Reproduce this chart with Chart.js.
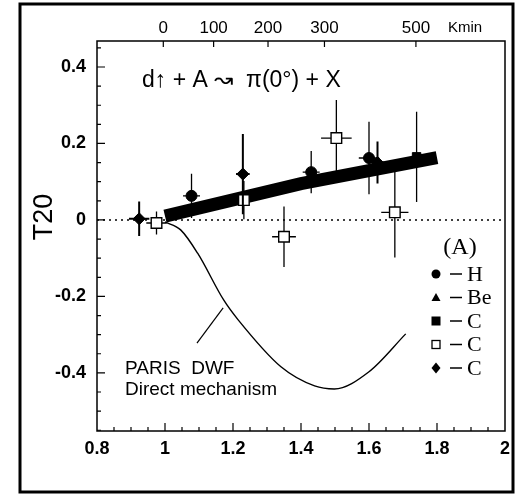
<!DOCTYPE html>
<html>
<head>
<meta charset="utf-8">
<script src="https://cdn.jsdelivr.net/npm/chart.js@4.4.0/dist/chart.umd.min.js"></script>
<style>
  html, body { margin: 0; padding: 0; background: #fff; }
  canvas { display: block; }
</style>
</head>
<body>
<canvas id="chart" width="524" height="502"></canvas>
<script>
    // bottom axis ticks and top (Kmin) axis
    const xTicks = [0.8, 1, 1.2, 1.4, 1.6, 1.8, 2];
    const yTicks = [-0.4, -0.2, 0, 0.2, 0.4];
    const kminLabels = ['0', '100', '200', '300', '500'];
    const kminAt = [0.995, 1.143, 1.303, 1.469, 1.738];

    // H - filled circles
    const hX = [1.078, 1.43, 1.60];
    const hY = [0.063, 0.125, 0.162];
    const hErr = [0.058, 0.055, 0.095];
    const hXErr = [0.025, 0.025, 0.03];

    // C - open squares
    const openX = [0.975, 1.232, 1.35, 1.504, 1.676];
    const openY = [-0.008, 0.052, -0.044, 0.214, 0.02];
    const openErr = [0.03, 0.05, 0.079, 0.1, 0.118];
    const openXErr = [0.03, 0.03, 0.035, 0.045, 0.04];

    // C - filled crosses
    const crossX = [0.924, 1.229, 1.625];
    const crossY = [0.003, 0.12, 0.15];
    const crossErr = [0.045, 0.105, 0.055];
    const crossXErr = [0.03, 0.02, 0.02];

    // C - filled square hidden in the band
    const sqX = [1.74];
    const sqY = [0.165];
    const sqErr = [0.118];

    // C - band of filled squares
    const bandX = [1.0, 1.4, 1.8];
    const bandY = [0.01, 0.095, 0.163];

    // PARIS DWF, direct mechanism
    const dwfX = [1.0, 1.046, 1.096, 1.173, 1.214, 1.341, 1.44, 1.498, 1.6, 1.708];
    const dwfY = [-0.005, -0.026, -0.087, -0.21, -0.26, -0.384, -0.434, -0.442, -0.397, -0.298];

    const zeroX = [0.8, 2];

    const legendHeader = '(A)';
    const legendNames = ['H', 'Be', 'C', 'C', 'C'];
    const legendMarks = ['circle', 'triangle', 'rect', 'openRect', 'rectRot'];

    const SANS = '"Liberation Sans", Arial, sans-serif';
    const SERIF = '"Liberation Serif", "Times New Roman", serif';

    function pts(xs, ys) {
        return xs.map((x, i) => ({x: x, y: ys[i]}));
    }

    const errorBars = {
        id: 'errorBars',
        beforeDatasetDraw(chart, args) {
            const ds = chart.data.datasets[args.index];
            if (!ds.errY) return;
            const xs = chart.scales.x, ys = chart.scales.y;
            const ctx = chart.ctx;
            ctx.save();
            ctx.strokeStyle = '#000';
            ctx.lineWidth = ds.errWidth || 1.3;
            ctx.beginPath();
            ds.data.forEach((p, i) => {
                const px = xs.getPixelForValue(p.x);
                ctx.moveTo(px, ys.getPixelForValue(p.y - ds.errY[i]));
                ctx.lineTo(px, ys.getPixelForValue(p.y + ds.errY[i]));
                if (ds.errX) {
                    const py = ys.getPixelForValue(p.y);
                    ctx.moveTo(xs.getPixelForValue(p.x - ds.errX[i]), py);
                    ctx.lineTo(xs.getPixelForValue(p.x + ds.errX[i]), py);
                }
            });
            ctx.stroke();
            ctx.restore();
        }
    };

    function marker(ctx, kind, x, y, r) {
        ctx.beginPath();
        if (kind === 'circle') {
            ctx.arc(x, y, r, 0, Math.PI * 2);
            ctx.fill();
        } else if (kind === 'triangle') {
            ctx.moveTo(x, y - r);
            ctx.lineTo(x + r, y + r * 0.8);
            ctx.lineTo(x - r, y + r * 0.8);
            ctx.closePath();
            ctx.fill();
        } else if (kind === 'rect') {
            ctx.fillRect(x - r, y - r, 2 * r, 2 * r);
        } else if (kind === 'openRect') {
            ctx.lineWidth = 1.3;
            ctx.strokeRect(x - r + 0.5, y - r + 0.5, 2 * r - 1, 2 * r - 1);
        } else {
            ctx.moveTo(x, y - r - 1);
            ctx.lineTo(x + r, y);
            ctx.lineTo(x, y + r + 1);
            ctx.lineTo(x - r, y);
            ctx.closePath();
            ctx.fill();
        }
    }

    const decorations = {
        id: 'decorations',
        afterDraw(chart) {
            const ctx = chart.ctx;
            const ca = chart.chartArea;
            const xs = chart.scales.x, ys = chart.scales.y;
            ctx.save();
            ctx.strokeStyle = '#000';
            ctx.fillStyle = '#000';

            // plot box
            ctx.lineWidth = 1.5;
            ctx.strokeRect(ca.left, ca.top, ca.right - ca.left, ca.bottom - ca.top);

            // inward ticks
            ctx.lineWidth = 1.2;
            ctx.beginPath();
            for (let i = 17; i < 40; i++) {
                const px = xs.getPixelForValue(i * 0.05);
                ctx.moveTo(px, ca.bottom);
                ctx.lineTo(px, ca.bottom - (i % 4 === 0 ? 8 : 4));
            }
            for (let i = -11; i <= 9; i++) {
                const py = ys.getPixelForValue(i * 0.05);
                ctx.moveTo(ca.left, py);
                ctx.lineTo(ca.left + (i % 4 === 0 ? 8 : 4), py);
            }
            kminAt.forEach(v => {
                const px = xs.getPixelForValue(v);
                ctx.moveTo(px, ca.top);
                ctx.lineTo(px, ca.top + 6);
            });
            ctx.stroke();

            // outer frame
            ctx.lineWidth = 3;
            ctx.strokeRect(20, 4, 493, 488);

            // Kmin
            ctx.font = '15px ' + SANS;
            ctx.textAlign = 'left';
            ctx.textBaseline = 'alphabetic';
            ctx.fillText('Kmin', 448, 32);

            // y title
            ctx.save();
            ctx.translate(52, 217);
            ctx.rotate(-Math.PI / 2);
            ctx.textAlign = 'center';
            ctx.textBaseline = 'alphabetic';
            ctx.font = '27px ' + SANS;
            ctx.fillText('T20', 0, 0);
            ctx.restore();

            // reaction
            ctx.font = '23px ' + SANS;
            ctx.fillText('d\u2191 + A \u219D  \u03C0(0\u00B0) + X', 142, 87);

            // DWF curve label and pointer
            ctx.font = '19px ' + SANS;
            ctx.fillText('PARIS  DWF', 125, 374);
            ctx.fillText('Direct mechanism', 125, 395);
            ctx.lineWidth = 1.2;
            ctx.beginPath();
            ctx.moveTo(xs.getPixelForValue(1.094), ys.getPixelForValue(-0.322));
            ctx.lineTo(xs.getPixelForValue(1.171), ys.getPixelForValue(-0.23));
            ctx.stroke();

            // legend
            ctx.font = '24px ' + SERIF;
            ctx.textAlign = 'center';
            ctx.fillText(legendHeader, 460, 254);
            ctx.textAlign = 'left';
            ctx.font = '22px ' + SERIF;
            ctx.textBaseline = 'middle';
            legendNames.forEach((name, i) => {
                const y = 274 + i * 23.5;
                marker(ctx, legendMarks[i], 436, y, 4.5);
                ctx.lineWidth = 1.5;
                ctx.beginPath();
                ctx.moveTo(450, y);
                ctx.lineTo(462, y);
                ctx.stroke();
                ctx.fillText(name, 467, y + 1);
            });
            ctx.restore();
        }
    };

    const xFont = {family: SANS, size: 18, weight: 'bold'};
    const yFont = {family: SANS, size: 18, weight: 'bold'};
    const topFont = {family: SANS, size: 17};

    new Chart(document.getElementById('chart'), {
        type: 'scatter',
        data: {
            datasets: [
                {
                    label: 'C cross',
                    data: pts(crossX, crossY),
                    errY: crossErr, errX: crossXErr, errWidth: 2,
                    pointStyle: 'rectRot', pointRadius: 6,
                    backgroundColor: '#000', borderColor: '#000', borderWidth: 1,
                    order: 1
                },
                {
                    label: 'C open',
                    data: pts(openX, openY),
                    errY: openErr, errX: openXErr,
                    pointStyle: 'rect', pointRadius: 7.5,
                    backgroundColor: '#fff', borderColor: '#000', borderWidth: 1.4,
                    order: 2
                },
                {
                    label: 'H',
                    data: pts(hX, hY),
                    errY: hErr, errX: hXErr,
                    pointStyle: 'circle', pointRadius: 5.5,
                    backgroundColor: '#000', borderColor: '#000', borderWidth: 1,
                    order: 3
                },
                {
                    label: 'C filled',
                    data: pts(sqX, sqY),
                    errY: sqErr,
                    pointStyle: 'rect', pointRadius: 6,
                    backgroundColor: '#000', borderColor: '#000',
                    order: 4
                },
                {
                    label: 'C band',
                    data: pts(bandX, bandY),
                    showLine: true, pointRadius: 0,
                    borderColor: '#000', borderWidth: 13, borderCapStyle: 'butt',
                    order: 5
                },
                {
                    label: 'PARIS DWF',
                    data: pts(dwfX, dwfY),
                    showLine: true, pointRadius: 0,
                    borderColor: '#000', borderWidth: 1.4,
                    cubicInterpolationMode: 'monotone',
                    order: 6
                },
                {
                    label: 'zero',
                    data: zeroX.map(x => ({x: x, y: 0})),
                    showLine: true, pointRadius: 0,
                    borderColor: '#000', borderWidth: 1.5, borderDash: [2, 4],
                    order: 7
                }
            ]
        },
        options: {
            responsive: false,
            animation: false,
            devicePixelRatio: 1,
            layout: {padding: {right: 19}},
            plugins: {legend: {display: false}, tooltip: {enabled: false}},
            scales: {
                x: {
                    type: 'linear', position: 'bottom', min: 0.8, max: 2,
                    grid: {display: false, drawTicks: false}, border: {display: false},
                    afterBuildTicks: s => { s.ticks = xTicks.map(v => ({value: v})); },
                    afterFit: s => { s.height = 71; },
                    ticks: {
                        padding: 7, color: '#000', font: xFont,
                        autoSkip: false, maxRotation: 0,
                        callback: v => String(+v.toFixed(1))
                    }
                },
                x2: {
                    type: 'linear', position: 'top', min: 0.8, max: 2,
                    grid: {display: false, drawTicks: false}, border: {display: false},
                    afterBuildTicks: s => { s.ticks = kminAt.map(v => ({value: v})); },
                    afterFit: s => { s.height = 41; },
                    ticks: {
                        padding: 2, color: '#000', font: topFont,
                        autoSkip: false, maxRotation: 0,
                        callback: (v, i) => kminLabels[i]
                    }
                },
                y: {
                    type: 'linear', position: 'left', min: -0.552, max: 0.468,
                    grid: {display: false, drawTicks: false}, border: {display: false},
                    afterBuildTicks: s => { s.ticks = yTicks.map(v => ({value: v})); },
                    afterFit: s => { s.width = 97; },
                    ticks: {
                        padding: 11, color: '#000', font: yFont,
                        callback: v => (v === 0 ? '0' : v.toFixed(1))
                    }
                }
            }
        },
        plugins: [errorBars, decorations]
    });
</script>
</body>
</html>
